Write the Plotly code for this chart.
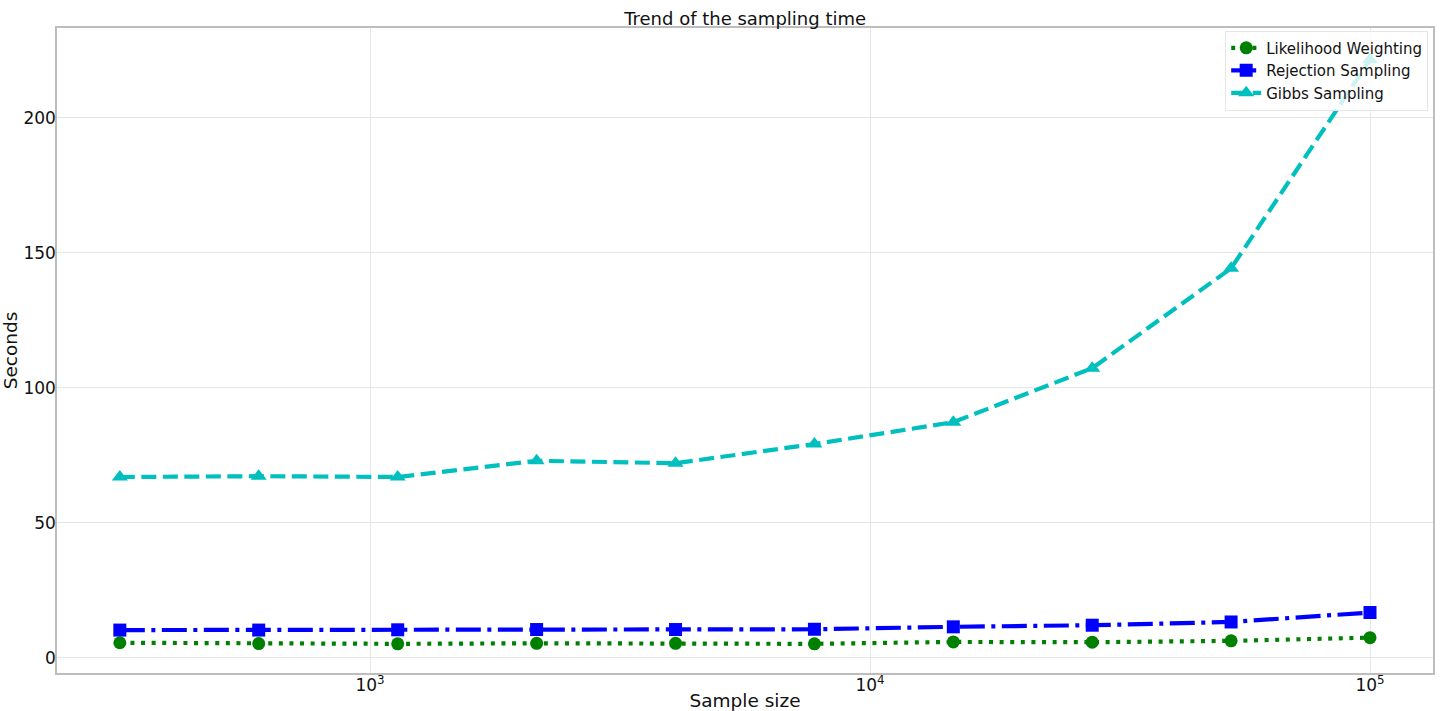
import plotly.graph_objects as go

# Sample sizes (log-spaced) and measured sampling times in seconds
sample_sizes = [316, 599, 1136, 2154, 4084, 7742, 14677, 27825, 52749, 100000]
likelihood_weighting = [5.6, 5.3, 5.2, 5.4, 5.4, 5.2, 5.9, 5.8, 6.3, 7.5]
rejection_sampling = [10.3, 10.3, 10.4, 10.5, 10.5, 10.6, 11.5, 12.1, 13.3, 16.8]
gibbs_sampling = [67.0, 67.3, 67.0, 73.0, 72.1, 79.2, 87.3, 107.3, 144.3, 221.5]

x_tick_vals = [1000, 10000, 100000]
x_tick_text = ["10<sup>3</sup>", "10<sup>4</sup>", "10<sup>5</sup>"]
y_tick_vals = [0, 50, 100, 150, 200]

font_family = "DejaVu Sans"
lw = 4.2

fig = go.Figure()
fig.add_trace(go.Scatter(
    x=sample_sizes, y=likelihood_weighting, name="Likelihood Weighting",
    mode="lines+markers",
    line=dict(color="#008000", width=lw, dash="4px,6.6px"),
    marker=dict(symbol="circle", size=13, color="#008000"),
))
fig.add_trace(go.Scatter(
    x=sample_sizes, y=rejection_sampling, name="Rejection Sampling",
    mode="lines+markers",
    line=dict(color="#0000ff", width=lw, dash="25px,6.5px,4px,6.5px"),
    marker=dict(symbol="square", size=13, color="#0000ff"),
))
fig.add_trace(go.Scatter(
    x=sample_sizes, y=gibbs_sampling, name="Gibbs Sampling",
    mode="lines+markers",
    line=dict(color="#00bfbf", width=lw, dash="15px,6.5px"),
    marker=dict(symbol="triangle-up", size=14, color="#00bfbf"),
))

fig.update_layout(
    width=1444, height=711,
    margin=dict(l=57, r=11, t=28, b=38),
    plot_bgcolor="white", paper_bgcolor="white",
    font=dict(family=font_family, size=17, color="#111111"),
    title=dict(text="Trend of the sampling time", x=0.516, xanchor="center",
               y=0.973, yanchor="middle", font=dict(size=18)),
    legend=dict(x=0.9965, y=0.996, xanchor="right", yanchor="top",
                bgcolor="rgba(255,255,255,0.8)", bordercolor="#e6e6e6",
                borderwidth=1, font=dict(size=15), tracegroupgap=0),
    showlegend=True,
)
fig.update_xaxes(
    type="log", range=[2.374, 5.126], automargin=False,
    tickvals=x_tick_vals, ticktext=x_tick_text, ticklabelstandoff=-4,
    showgrid=True, gridcolor="#e6e6e6", gridwidth=1,
    showline=True, linecolor="#bdbdbd", linewidth=1.5, mirror=True,
    ticks="", zeroline=False,
    title=dict(text="Sample size", font=dict(size=18.5), standoff=8),
)
fig.update_yaxes(
    range=[-5.6, 233.3], tickvals=y_tick_vals, automargin=False,
    ticklabelstandoff=-4,
    showgrid=True, gridcolor="#e6e6e6", gridwidth=1,
    showline=True, linecolor="#bdbdbd", linewidth=1.5, mirror=True,
    ticks="", zeroline=False,
    title=dict(text="Seconds", font=dict(size=18.5), standoff=8),
)

fig.write_html("out.html")
